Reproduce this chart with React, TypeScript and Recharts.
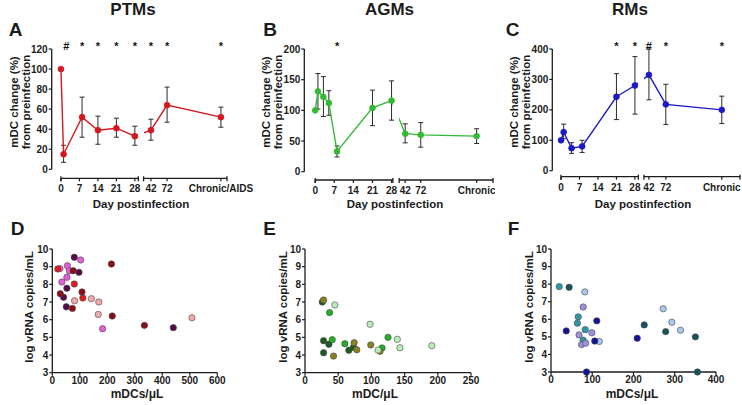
import React from 'react'
import {
  ComposedChart,
  Line,
  XAxis,
  YAxis,
  ErrorBar,
  ScatterChart,
  Scatter,
} from 'recharts'

const FONT = '"Liberation Sans", Arial, Helvetica, sans-serif'
const INK = '#1c1c1c'

// A - PTMs: mDC change (%) from preinfection
const ptmDays = ['0', '1', '8', '14', '21', '28', '42', '72', 'Chronic']
const ptmMean = [100, 15, 52, 39, 41, 33, 39, 64, 52]
const ptmLow = [100, 7, 32, 25, 32, 24, 29, 47, 42]
const ptmHigh = [100, 24, 72, 53, 51, 43, 50, 82, 62]
const ptmSigDays = ['2', '8', '14', '21', '28', '42', '72', 'Chronic']
const ptmSigMarks = ['#', '*', '*', '*', '*', '*', '*', '*']
const ptmYTicks = [0, 20, 40, 60, 80, 100, 120]
const ptmTickDays = ['0', '7', '14', '21', '28', '42', '72', 'Chronic']
const ptmTickLabels = ['0', '7', '14', '21', '28', '42', '72', 'Chronic/AIDS']

// B - AGMs
const agmDays = ['0', '1', '3', '5', '8', '21', '28', '42', '72', 'Chronic']
const agmMean = [100, 131, 122, 112, 33, 104, 116, 62, 60, 58]
const agmLow = [100, 102, 90, 92, 24, 75, 84, 47, 40, 46]
const agmHigh = [100, 160, 155, 132, 42, 133, 148, 78, 80, 70]
const agmSigDays = ['8']
const agmSigMarks = ['*']
const agmYTicks = [0, 50, 100, 150, 200]
const agmTickDays = ['0', '7', '14', '21', '28', '42', '72', 'Chronic']
const agmTickLabels = ['0', '7', '14', '21', '28', '42', '72', 'Chronic']

// C - RMs
const rmDays = ['0', '1', '4', '8', '21', '28', '42', '72', 'Chronic']
const rmMean = [100, 127, 74, 80, 243, 280, 315, 218, 200]
const rmLow = [100, 105, 57, 60, 168, 186, 233, 152, 155]
const rmHigh = [100, 153, 92, 100, 319, 375, 400, 284, 245]
const rmSigDays = ['21', '28', '42', '72', 'Chronic']
const rmSigMarks = ['*', '*', '#', '*', '*']
const rmYTicks = [0, 100, 200, 300, 400]
const rmTickDays = ['0', '7', '14', '21', '28', '42', '72', 'Chronic']
const rmTickLabels = ['0', '7', '14', '21', '28', '42', '72', 'Chronic']

// D - PTMs: mDCs/uL vs log viral load, one colour per animal
const ptmDcs = [80, 103, 215, 55, 20, 28, 62, 76, 97, 53, 35, 80, 53, 108, 29, 41, 111, 81, 142, 169, 51, 73, 167, 218, 183, 335, 440, 508]
const ptmVl = [9.53, 9.38, 9.15, 9.05, 8.87, 8.89, 8.77, 8.77, 8.68, 8.4, 8.13, 8.02, 7.78, 7.57, 7.47, 7.27, 7.23, 7.07, 7.19, 7.0, 6.73, 6.64, 6.3, 6.21, 5.49, 5.68, 5.55, 6.11]
const ptmAnimal = [0, 1, 3, 1, 2, 1, 1, 3, 0, 1, 1, 2, 0, 3, 3, 0, 2, 4, 4, 4, 0, 3, 4, 3, 1, 3, 0, 4]

// E - AGMs
const agmDcs = [26, 28, 45, 37, 98, 28, 41, 36, 28, 43, 60, 74, 73, 66, 78, 99, 110, 113, 116, 125, 139, 143, 191]
const agmVl = [7.0, 7.11, 6.83, 6.4, 5.74, 4.81, 4.87, 4.61, 4.13, 3.94, 4.64, 4.7, 4.44, 4.27, 4.3, 4.57, 4.28, 4.21, 4.4, 5.0, 4.89, 4.41, 4.53]
const agmAnimal = [0, 2, 3, 1, 3, 0, 1, 0, 0, 2, 1, 2, 0, 0, 2, 2, 3, 2, 1, 1, 3, 3, 3]

// F - RMs
const rmDcs = [20, 44, 82, 78, 66, 64, 111, 37, 83, 68, 99, 78, 74, 84, 106, 117, 86, 209, 226, 272, 293, 278, 314, 350, 355]
const rmVl = [7.86, 7.82, 7.56, 6.7, 6.14, 5.78, 5.91, 5.34, 5.41, 5.11, 5.23, 4.81, 4.56, 4.64, 4.76, 4.74, 3.0, 4.92, 5.68, 6.6, 5.83, 5.3, 5.38, 5.0, 3.0]
const rmAnimal = [0, 1, 2, 3, 0, 0, 4, 4, 0, 3, 3, 0, 3, 3, 4, 2, 4, 4, 1, 2, 2, 1, 2, 1, 1]

const vlTicks = [3, 4, 5, 6, 7, 8, 9, 10]
const ptmDcTicks = [0, 100, 200, 300, 400, 500, 600]
const agmDcTicks = [0, 50, 100, 150, 200, 250]
const rmDcTicks = [0, 100, 200, 300, 400]

const ptmColors = ['#560b48', '#e35fd6', '#e01a1e', '#8c0d18', '#f0a9a9']
const agmColors = ['#1d5b1d', '#25ad25', '#88821f', '#b8ecb8']
const rmColors = ['#2b98a8', '#18525a', '#a9c6ef', '#9b92de', '#12129c']

// broken day axis: days 0-28 linear, then 42 / 72 / chronic after the break
type DayAxis = { domain: [number, number]; gap: [number, number]; late: Record<string, number> }
const axisA: DayAxis = { domain: [-3.5, 62.9], gap: [29.3, 31.3], late: { '42': 34.1, '72': 40.2, Chronic: 60.6 } }
const axisB: DayAxis = { domain: [-4.0, 65.2], gap: [28.5, 30.8], late: { '42': 33, '72': 38.7, Chronic: 59.2 } }
const axisC: DayAxis = { domain: [-3.3, 67.8], gap: [29.3, 31.4], late: { '42': 33.3, '72': 39.7, Chronic: 60.9 } }

const tickFont = { fill: INK, stroke: 'none', fontSize: 10, fontWeight: 700, fontFamily: FONT }

type Box = { left: number; right: number; top: number; bottom: number }

function TimeCourse(props: {
  id: string
  left: number
  width: number
  plot: Box
  drop: number
  axis: DayAxis
  days: string[]
  mean: number[]
  low: number[]
  high: number[]
  sigDays: string[]
  sigMarks: string[]
  yTicks: number[]
  tickDays: string[]
  tickLabels: string[]
  color: string
}) {
  const { id, left, width, plot, drop, axis, color } = props
  const H = 205
  const sigH = 10
  const yW = 30
  const xH = 30
  const pos = (d: string) => (axis.late[d] !== undefined ? axis.late[d] : Number(d))
  const rows = props.days.map((d, i) => ({
    pos: pos(d),
    mean: props.mean[i],
    err: [props.mean[i] - props.low[i], props.high[i] - props.mean[i]],
  }))
  const sigPos = props.sigDays.map(pos)
  const tickPos = props.tickDays.map(pos)
  const [d0, d1] = axis.domain
  const frac = (v: number) => (v - d0) / (d1 - d0)
  const axisY = plot.bottom + drop
  const yMax = props.yTicks[props.yTicks.length - 1]

  const SigTick = (p: any) => {
    const i = sigPos.indexOf(p.payload.value)
    return (
      <text x={p.x} y={plot.top + 1} textAnchor="middle" {...tickFont} fill="#111" fontSize={11}>
        {props.sigMarks[i]}
      </text>
    )
  }

  const DayTick = (p: any) => {
    const i = tickPos.indexOf(p.payload.value)
    return (
      <g>
        <line x1={p.x} x2={p.x} y1={axisY} y2={axisY + 3} stroke={INK} strokeWidth={1.2} />
        <text x={p.x} y={axisY + 14} textAnchor="middle" {...tickFont}>
          {props.tickLabels[i]}
        </text>
      </g>
    )
  }

  const BrokenLine = (p: any) => {
    const vb = p.viewBox
    const px = (v: number) => vb.x + frac(v) * vb.width
    const segs = [
      [0, axis.gap[0]],
      [axis.gap[1], d1],
    ]
    return (
      <g stroke={INK} strokeWidth={1.3}>
        {segs.map(([a, b], k) => (
          <g key={k}>
            <line x1={px(a)} x2={px(b)} y1={axisY} y2={axisY} />
            <line x1={px(a)} x2={px(a)} y1={axisY - 2} y2={axisY + 3} />
            <line x1={px(b)} x2={px(b)} y1={axisY - 2} y2={axisY + 3} />
          </g>
        ))}
      </g>
    )
  }

  const margin = {
    top: plot.top - sigH,
    left: plot.left - left - yW,
    right: left + width - plot.right,
    bottom: H - plot.bottom - xH,
  }
  const gx0 = plot.left - left
  const gx1 = plot.right - left

  return (
    <div style={{ position: 'absolute', left, top: 0 }}>
      <ComposedChart width={width} height={H} data={rows} margin={margin}>
        <defs>
          <linearGradient id={`gap-${id}`} gradientUnits="userSpaceOnUse" x1={gx0} x2={gx1} y1={0} y2={0}>
            <stop offset={0} stopColor={color} />
            <stop offset={frac(axis.gap[0])} stopColor={color} />
            <stop offset={frac(axis.gap[0])} stopColor={color} stopOpacity={0} />
            <stop offset={frac(axis.gap[1])} stopColor={color} stopOpacity={0} />
            <stop offset={frac(axis.gap[1])} stopColor={color} />
            <stop offset={1} stopColor={color} />
          </linearGradient>
        </defs>
        <XAxis
          xAxisId="sig"
          orientation="top"
          type="number"
          dataKey="pos"
          domain={axis.domain}
          ticks={sigPos}
          interval={0}
          height={sigH}
          axisLine={false}
          tickLine={false}
          tick={SigTick}
        />
        <XAxis
          type="number"
          dataKey="pos"
          domain={axis.domain}
          ticks={tickPos}
          interval={0}
          height={xH}
          axisLine={false}
          tickLine={false}
          tick={DayTick}
          label={{ content: BrokenLine }}
        />
        <YAxis
          type="number"
          domain={[0, yMax]}
          ticks={props.yTicks}
          interval={0}
          width={yW}
          tickSize={3}
          tickMargin={1}
          axisLine={{ stroke: INK, strokeWidth: 1.3 }}
          tickLine={{ stroke: INK, strokeWidth: 1.2 }}
          tick={tickFont}
        />
        <Line
          type="linear"
          dataKey="mean"
          stroke={`url(#gap-${id})`}
          strokeWidth={1.4}
          dot={{ r: 2.9, fill: color, stroke: color, strokeWidth: 0.8 }}
          activeDot={false}
          isAnimationActive={false}
        >
          <ErrorBar dataKey="err" width={2.5} stroke="#2a2a2a" strokeWidth={1} direction="y" />
        </Line>
      </ComposedChart>
    </div>
  )
}

function DcScatter(props: {
  left: number
  width: number
  plot: Box
  xs: number[]
  ys: number[]
  groups: number[]
  colors: string[]
  xTicks: number[]
}) {
  const { left, width, plot, colors } = props
  const top = 205
  const H = 200
  const yW = 30
  const xH = 20
  const points = props.xs.map((x, i) => ({ x, y: props.ys[i], g: props.groups[i] }))
  const margin = {
    top: plot.top - top,
    left: plot.left - left - yW,
    right: left + width - plot.right,
    bottom: top + H - plot.bottom - xH,
  }
  return (
    <div style={{ position: 'absolute', left, top }}>
      <ScatterChart width={width} height={H} margin={margin}>
        <XAxis
          type="number"
          dataKey="x"
          domain={[0, props.xTicks[props.xTicks.length - 1]]}
          ticks={props.xTicks}
          interval={0}
          height={xH}
          tickSize={3}
          tickMargin={1}
          axisLine={{ stroke: INK, strokeWidth: 1.3 }}
          tickLine={{ stroke: INK, strokeWidth: 1.2 }}
          tick={tickFont}
        />
        <YAxis
          type="number"
          dataKey="y"
          domain={[3, 10]}
          ticks={vlTicks}
          interval={0}
          width={yW}
          tickSize={3}
          tickMargin={1}
          axisLine={{ stroke: INK, strokeWidth: 1.3 }}
          tickLine={{ stroke: INK, strokeWidth: 1.2 }}
          tick={tickFont}
        />
        {colors.map((c, g) => (
          <Scatter
            key={g}
            data={points.filter((p) => p.g === g)}
            fill={c}
            isAnimationActive={false}
            shape={(p: any) => <circle cx={p.cx} cy={p.cy} r={3.2} fill={c} stroke="#4a4a4a" strokeWidth={0.6} />}
          />
        ))}
      </ScatterChart>
    </div>
  )
}

const T = (p: { x: number; y: number; size: number; rotate?: boolean; children: React.ReactNode }) => (
  <text
    x={p.x}
    y={p.y}
    fontSize={p.size}
    fontWeight={700}
    fontFamily={FONT}
    fill={INK}
    textAnchor="middle"
    dominantBaseline="central"
    transform={p.rotate ? `rotate(-90 ${p.x} ${p.y})` : undefined}
  >
    {p.children}
  </text>
)

export default function App() {
  return (
    <div style={{ position: 'absolute', left: 0, top: 0, width: 742, height: 405, background: '#fff', fontFamily: FONT }}>
      <TimeCourse
        id="a"
        left={0}
        width={256}
        plot={{ left: 51.7, right: 227, top: 49, bottom: 169.3 }}
        drop={9}
        axis={axisA}
        days={ptmDays}
        mean={ptmMean}
        low={ptmLow}
        high={ptmHigh}
        sigDays={ptmSigDays}
        sigMarks={ptmSigMarks}
        yTicks={ptmYTicks}
        tickDays={ptmTickDays}
        tickLabels={ptmTickLabels}
        color="#d3191f"
      />
      <TimeCourse
        id="b"
        left={256}
        width={239}
        plot={{ left: 304.3, right: 493, top: 49, bottom: 171.7 }}
        drop={8.3}
        axis={axisB}
        days={agmDays}
        mean={agmMean}
        low={agmLow}
        high={agmHigh}
        sigDays={agmSigDays}
        sigMarks={agmSigMarks}
        yTicks={agmYTicks}
        tickDays={agmTickDays}
        tickLabels={agmTickLabels}
        color="#35b935"
      />
      <TimeCourse
        id="c"
        left={495}
        width={247}
        plot={{ left: 552.3, right: 740, top: 49, bottom: 170.7 }}
        drop={6}
        axis={axisC}
        days={rmDays}
        mean={rmMean}
        low={rmLow}
        high={rmHigh}
        sigDays={rmSigDays}
        sigMarks={rmSigMarks}
        yTicks={rmYTicks}
        tickDays={rmTickDays}
        tickLabels={rmTickLabels}
        color="#1a1ac4"
      />
      <DcScatter
        left={0}
        width={240}
        plot={{ left: 52.3, right: 217.3, top: 249, bottom: 372.7 }}
        xs={ptmDcs}
        ys={ptmVl}
        groups={ptmAnimal}
        colors={ptmColors}
        xTicks={ptmDcTicks}
      />
      <DcScatter
        left={250}
        width={245}
        plot={{ left: 305, right: 471, top: 249, bottom: 372.7 }}
        xs={agmDcs}
        ys={agmVl}
        groups={agmAnimal}
        colors={agmColors}
        xTicks={agmDcTicks}
      />
      <DcScatter
        left={495}
        width={247}
        plot={{ left: 551, right: 716, top: 249, bottom: 372 }}
        xs={rmDcs}
        ys={rmVl}
        groups={rmAnimal}
        colors={rmColors}
        xTicks={rmDcTicks}
      />
      <svg width={742} height={405} style={{ position: 'absolute', left: 0, top: 0, pointerEvents: 'none' }}>
        <T x={133} y={9.5} size={17}>PTMs</T>
        <T x={389.5} y={9.5} size={17}>AGMs</T>
        <T x={630} y={9.5} size={17}>RMs</T>

        <T x={15.5} y={29} size={19}>A</T>
        <T x={270} y={29} size={19}>B</T>
        <T x={512.5} y={29} size={19}>C</T>
        <T x={17.5} y={228.5} size={19}>D</T>
        <T x={269.5} y={228.5} size={19}>E</T>
        <T x={513.5} y={228.5} size={19}>F</T>

        <T x={13.7} y={102} size={11.5} rotate>mDC change (%)</T>
        <T x={25.5} y={102} size={11.5} rotate>from preinfection</T>
        <T x={265.5} y={102} size={11.5} rotate>mDC change (%)</T>
        <T x={277.5} y={102} size={11.5} rotate>from preinfection</T>
        <T x={514} y={102} size={11.5} rotate>mDC change (%)</T>
        <T x={526} y={102} size={11.5} rotate>from preinfection</T>

        <T x={141} y={204} size={11.5}>Day postinfection</T>
        <T x={395} y={204} size={11.5}>Day postinfection</T>
        <T x={643} y={204} size={11.5}>Day postinfection</T>

        <T x={29} y={307} size={11.5} rotate>log vRNA copies/mL</T>
        <T x={282.5} y={307} size={11.5} rotate>log vRNA copies/mL</T>
        <T x={529} y={307} size={11.5} rotate>log vRNA copies/mL</T>

        <T x={137} y={394} size={12}>mDCs/μL</T>
        <T x={375} y={394} size={12}>mDC/μL</T>
        <T x={632} y={394} size={12}>mDCs/μL</T>
      </svg>
    </div>
  )
}
